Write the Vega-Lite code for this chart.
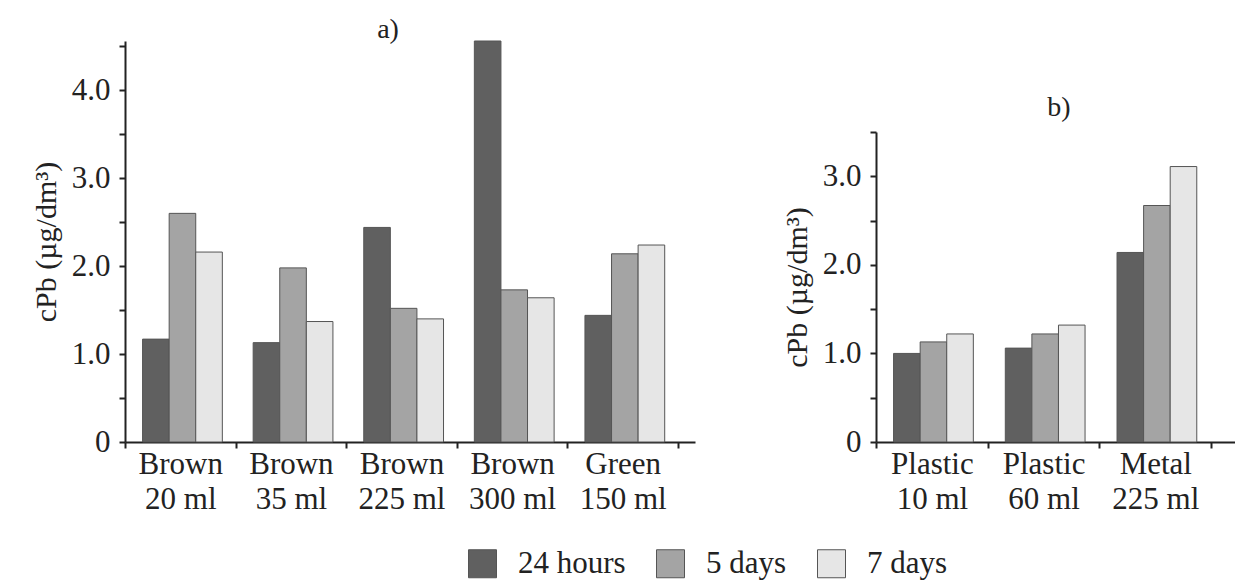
{
  "$schema": "https://vega.github.io/schema/vega-lite/v6.json",
  "background": "white",
  "padding": {"left": 31, "top": 15, "right": 0, "bottom": 5},
  "datasets": {
    "a": [
      {"bottle": "Brown|20 ml", "time": "24 hours", "c": 1.17},
      {"bottle": "Brown|20 ml", "time": "5 days", "c": 2.6},
      {"bottle": "Brown|20 ml", "time": "7 days", "c": 2.16},
      {"bottle": "Brown|35 ml", "time": "24 hours", "c": 1.13},
      {"bottle": "Brown|35 ml", "time": "5 days", "c": 1.98},
      {"bottle": "Brown|35 ml", "time": "7 days", "c": 1.37},
      {"bottle": "Brown|225 ml", "time": "24 hours", "c": 2.44},
      {"bottle": "Brown|225 ml", "time": "5 days", "c": 1.52},
      {"bottle": "Brown|225 ml", "time": "7 days", "c": 1.4},
      {"bottle": "Brown|300 ml", "time": "24 hours", "c": 4.56},
      {"bottle": "Brown|300 ml", "time": "5 days", "c": 1.73},
      {"bottle": "Brown|300 ml", "time": "7 days", "c": 1.64},
      {"bottle": "Green|150 ml", "time": "24 hours", "c": 1.44},
      {"bottle": "Green|150 ml", "time": "5 days", "c": 2.14},
      {"bottle": "Green|150 ml", "time": "7 days", "c": 2.24}
    ],
    "b": [
      {"bottle": "Plastic|10 ml", "time": "24 hours", "c": 1.0},
      {"bottle": "Plastic|10 ml", "time": "5 days", "c": 1.13},
      {"bottle": "Plastic|10 ml", "time": "7 days", "c": 1.22},
      {"bottle": "Plastic|60 ml", "time": "24 hours", "c": 1.06},
      {"bottle": "Plastic|60 ml", "time": "5 days", "c": 1.22},
      {"bottle": "Plastic|60 ml", "time": "7 days", "c": 1.32},
      {"bottle": "Metal|225 ml", "time": "24 hours", "c": 2.14},
      {"bottle": "Metal|225 ml", "time": "5 days", "c": 2.67},
      {"bottle": "Metal|225 ml", "time": "7 days", "c": 3.11}
    ]
  },
  "config": {
    "font": "Liberation Serif",
    "view": {"stroke": null},
    "axis": {
      "labelFont": "Liberation Serif",
      "titleFont": "Liberation Serif",
      "labelFontSize": 31,
      "titleFontSize": 30,
      "titleFontWeight": "normal",
      "labelColor": "#222",
      "titleColor": "#222",
      "domainColor": "#222",
      "tickColor": "#222",
      "domainWidth": 2,
      "tickWidth": 2,
      "tickSize": 6,
      "grid": false
    },
    "title": {
      "font": "Liberation Serif",
      "fontSize": 28,
      "fontWeight": "normal",
      "color": "#222",
      "anchor": "middle",
      "baseline": "alphabetic",
      "offset": -3
    },
    "legend": {
      "labelFont": "Liberation Serif",
      "labelFontSize": 31,
      "labelColor": "#222"
    }
  },
  "spacing": 87,
  "hconcat": [
    {
      "data": {"name": "a"},
      "width": 570,
      "height": 401,
      "title": {"text": "a)", "dx": -22},
      "mark": {"type": "bar", "stroke": "#555", "strokeWidth": 1},
      "encoding": {
        "x": {
          "field": "bottle", "type": "nominal", "sort": null,
          "scale": {"paddingInner": 0, "paddingOuter": 0.077, "align": 0},
          "axis": {"title": null, "labelAngle": 0, "tickBand": "extent", "labelExpr": "split(datum.label, '|')", "labelLineHeight": 35, "labelPadding": 1}
        },
        "xOffset": {
          "field": "time", "type": "nominal", "sort": ["24 hours", "5 days", "7 days"],
          "scale": {"paddingInner": 0, "paddingOuter": 0.58, "align": 0.57}
        },
        "y": {
          "field": "c", "type": "quantitative",
          "scale": {"domain": [0, 4.56], "nice": false},
          "axis": {
            "title": "cPb (µg/dm³)",
            "values": [0, 0.5, 1, 1.5, 2, 2.5, 3, 3.5, 4, 4.5],
            "labelExpr": "datum.value == 0 ? '0' : (datum.value % 1 == 0 ? format(datum.value, '.1f') : '')",
            "labelPadding": 9,
            "titlePadding": 10
          }
        },
        "color": {
          "field": "time", "type": "nominal",
          "scale": {"domain": ["24 hours", "5 days", "7 days"], "range": ["#606060", "#a4a4a4", "#e6e6e6"]},
          "legend": {
            "title": null, "orient": "none", "legendX": 342, "legendY": 507, "padding": 0,
            "direction": "horizontal",
            "symbolType": "square", "symbolSize": 784,
            "symbolStrokeColor": "#555", "symbolStrokeWidth": 1,
            "labelOffset": 20, "columnPadding": 28
          }
        }
      }
    },
    {
      "data": {"name": "b"},
      "width": 366,
      "height": 401,
      "title": {"text": "b)", "dy": 78},
      "mark": {"type": "bar", "stroke": "#555", "strokeWidth": 1},
      "encoding": {
        "x": {
          "field": "bottle", "type": "nominal", "sort": null,
          "scale": {"paddingInner": 0, "paddingOuter": 0.138, "align": 0},
          "axis": {"title": null, "labelAngle": 0, "tickBand": "extent", "labelExpr": "split(datum.label, '|')", "labelLineHeight": 35, "labelPadding": 1}
        },
        "xOffset": {
          "field": "time", "type": "nominal", "sort": ["24 hours", "5 days", "7 days"],
          "scale": {"paddingInner": 0, "paddingOuter": 0.58, "align": 0.57}
        },
        "y": {
          "field": "c", "type": "quantitative",
          "scale": {"domain": [0, 3.5], "nice": false, "range": [401, 91]},
          "axis": {
            "title": "cPb (µg/dm³)",
            "values": [0, 0.5, 1, 1.5, 2, 2.5, 3, 3.5],
            "labelExpr": "datum.value == 0 ? '0' : (datum.value % 1 == 0 ? format(datum.value, '.1f') : '')",
            "labelPadding": 9,
            "titlePadding": 10
          }
        },
        "color": {
          "field": "time", "type": "nominal",
          "scale": {"domain": ["24 hours", "5 days", "7 days"], "range": ["#606060", "#a4a4a4", "#e6e6e6"]}
        }
      }
    }
  ]
}
